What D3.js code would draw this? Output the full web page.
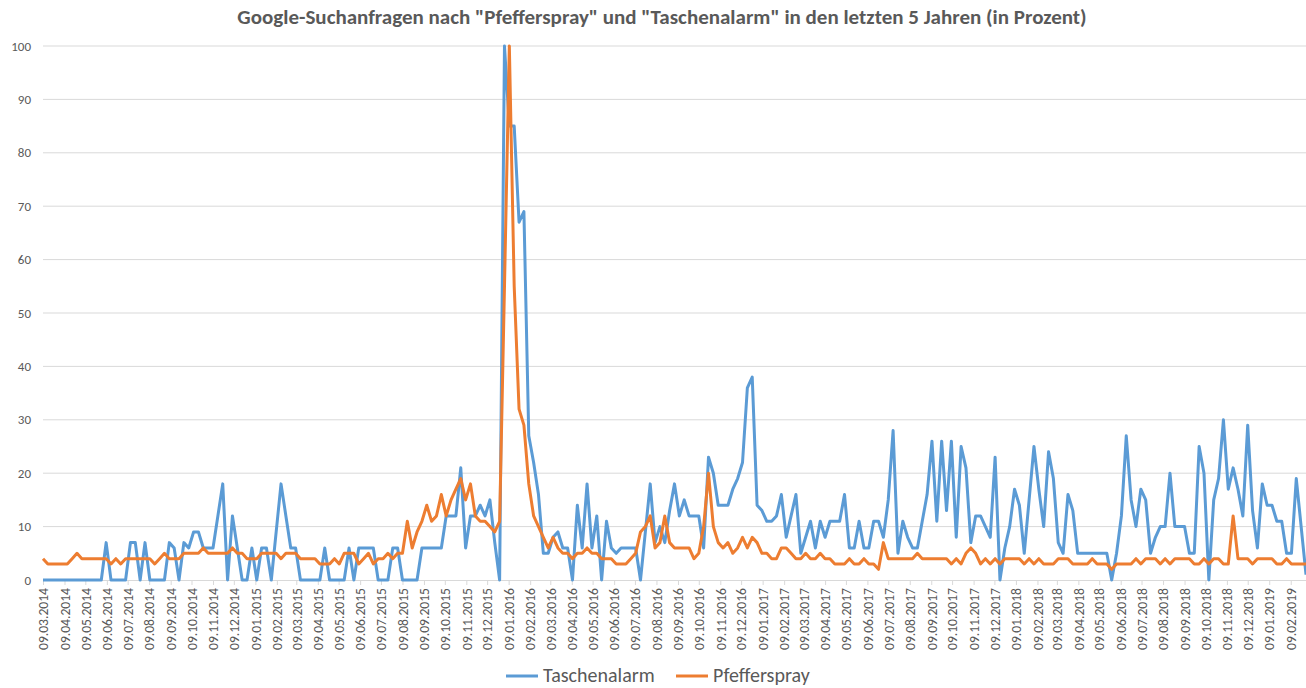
<!DOCTYPE html>
<html>
<head>
<meta charset="utf-8">
<script src="https://cdn.jsdelivr.net/npm/d3@7"></script>
<style>
  body { margin: 0; background: #fff; }
  svg { display: block; font-family: Calibri, Carlito, 'Liberation Sans', Arial, sans-serif; }
</style>
</head>
<body>
<svg id="chart" width="1306" height="688"></svg>
<script>
// weekly values (Google Trends), first week = 09.03.2014
var seriesNames = ['Taschenalarm', 'Pfefferspray'];
var seriesColors = ['#5B9BD5', '#ED7D31'];

var taschenalarm = [
    0, 0, 0, 0, 0, 0, 0, 0, 0, 0, 0, 0, 0, 7, 0, 0, 0, 0, 7, 7,
    0, 7, 0, 0, 0, 0, 7, 6, 0, 7, 6, 9, 9, 6, 6, 6, 12, 18, 0, 12,
    6, 0, 0, 6, 0, 6, 6, 0, 9, 18, 12, 6, 6, 0, 0, 0, 0, 0, 6, 0,
    0, 0, 0, 6, 0, 6, 6, 6, 6, 0, 0, 0, 6, 6, 0, 0, 0, 0, 6, 6,
    6, 6, 6, 12, 12, 12, 21, 6, 12, 12, 14, 12, 15, 7, 0, 100, 85, 85, 67, 69,
    27, 22, 16, 5, 5, 8, 9, 6, 6, 0, 14, 6, 18, 6, 12, 0, 11, 6, 5, 6,
    6, 6, 6, 0, 9, 18, 7, 10, 7, 13, 18, 12, 15, 12, 12, 12, 6, 23, 20, 14,
    14, 14, 17, 19, 22, 36, 38, 14, 13, 11, 11, 12, 16, 8, 12, 16, 5, 8, 11, 6,
    11, 8, 11, 11, 11, 16, 6, 6, 11, 6, 6, 11, 11, 8, 15, 28, 5, 11, 8, 6,
    6, 11, 16, 26, 11, 26, 13, 26, 8, 25, 21, 7, 12, 12, 10, 8, 23, 0, 6, 10,
    17, 14, 5, 15, 25, 17, 10, 24, 19, 7, 5, 16, 13, 5, 5, 5, 5, 5, 5, 5,
    0, 5, 12, 27, 15, 10, 17, 15, 5, 8, 10, 10, 20, 10, 10, 10, 5, 5, 25, 20,
    0, 15, 19, 30, 17, 21, 17, 12, 29, 13, 6, 18, 14, 14, 11, 11, 5, 5, 19, 10,
    1
];

var pfefferspray = [
    4, 3, 3, 3, 3, 3, 4, 5, 4, 4, 4, 4, 4, 4, 3, 4, 3, 4, 4, 4,
    4, 4, 4, 3, 4, 5, 4, 4, 4, 5, 5, 5, 5, 6, 5, 5, 5, 5, 5, 6,
    5, 5, 4, 4, 4, 5, 5, 5, 5, 4, 5, 5, 5, 4, 4, 4, 4, 3, 3, 3,
    4, 3, 5, 5, 5, 3, 4, 5, 3, 4, 4, 5, 4, 5, 5, 11, 6, 9, 11, 14,
    11, 12, 16, 12, 15, 17, 19, 15, 18, 12, 11, 11, 10, 9, 11, 55, 100, 55, 32, 29,
    18, 12, 10, 8, 6, 8, 6, 5, 5, 4, 5, 5, 6, 5, 5, 4, 4, 4, 3, 3,
    3, 4, 5, 9, 10, 12, 6, 7, 12, 7, 6, 6, 6, 6, 4, 5, 10, 20, 10, 7,
    6, 7, 5, 6, 8, 6, 8, 7, 5, 5, 4, 4, 6, 6, 5, 4, 4, 5, 4, 4,
    5, 4, 4, 3, 3, 3, 4, 3, 3, 4, 3, 3, 2, 7, 4, 4, 4, 4, 4, 4,
    5, 4, 4, 4, 4, 4, 4, 3, 4, 3, 5, 6, 5, 3, 4, 3, 4, 3, 4, 4,
    4, 4, 3, 4, 3, 4, 3, 3, 3, 4, 4, 4, 3, 3, 3, 3, 4, 3, 3, 3,
    2, 3, 3, 3, 3, 4, 3, 4, 4, 4, 3, 4, 3, 4, 4, 4, 4, 3, 3, 4,
    3, 4, 4, 3, 3, 12, 4, 4, 4, 3, 4, 4, 4, 4, 3, 3, 4, 3, 3, 3,
    3
];

var yTicks = [0, 10, 20, 30, 40, 50, 60, 70, 80, 90, 100];

var titleText = 'Google-Suchanfragen nach "Pfefferspray" und "Taschenalarm" in den letzten 5 Jahren (in Prozent)';

var svg = d3.select('#chart');

var plot = { l: 43, r: 1306, t: 46, b: 580 };

var startDate = new Date(2014, 2, 9);
var weeks = d3.range(taschenalarm.length).map(function(i) {
    return d3.timeDay.offset(startDate, 7 * i);
});
// axis labels on the 9th of every month
var tickDates = d3.range(60).map(function(k) { return new Date(2014, 2 + k, 9); });
var fmt = d3.timeFormat('%d.%m.%Y');

var xScale = d3.scaleTime()
    .domain([startDate, weeks[weeks.length - 1]])
    .range([plot.l, plot.r]);

var yScale = d3.scaleLinear()
    .domain([0, 100])
    .range([plot.b, plot.t]);

// Title
svg.append('text')
    .attr('x', 662)
    .attr('y', 24)
    .attr('text-anchor', 'middle')
    .style('font-size', '21px')
    .style('font-weight', 'bold')
    .style('fill', '#595959')
    .text(titleText);

// gridlines
svg.append('g')
    .selectAll('line')
    .data(yTicks.filter(function(d) { return d > 0; }))
    .enter().append('line')
    .attr('x1', plot.l)
    .attr('x2', plot.r)
    .attr('y1', function(d) { return yScale(d); })
    .attr('y2', function(d) { return yScale(d); })
    .style('stroke', '#d9d9d9')
    .style('stroke-width', 1);

// y axis labels
svg.append('g')
    .selectAll('text')
    .data(yTicks)
    .enter().append('text')
    .attr('x', 31)
    .attr('y', function(d) { return yScale(d) + 4.5; })
    .attr('text-anchor', 'end')
    .style('font-size', '13px')
    .style('fill', '#595959')
    .text(function(d) { return d; });

// x axis
var xAxis = d3.axisBottom(xScale)
    .tickValues(tickDates)
    .tickSize(5)
    .tickFormat(fmt);

var xG = svg.append('g')
    .attr('transform', 'translate(0,' + plot.b + ')')
    .call(xAxis);

xG.select('.domain').style('stroke', '#d9d9d9');
xG.selectAll('.tick line').style('stroke', '#d9d9d9');
xG.selectAll('.tick text')
    .attr('transform', 'rotate(-90)')
    .attr('x', -8)
    .attr('y', 0)
    .attr('dy', '0.35em')
    .style('text-anchor', 'end')
    .style('font-size', '13.6px')
    .style('font-family', "Calibri, Carlito, 'Liberation Sans', Arial, sans-serif")
    .style('fill', '#595959');

// lines
var line = d3.line()
    .x(function(d, i) { return xScale(weeks[i]); })
    .y(function(d) { return yScale(d); });

var allSeries = [taschenalarm, pfefferspray];

svg.append('g')
    .selectAll('path')
    .data(allSeries)
    .enter().append('path')
    .attr('d', line)
    .style('fill', 'none')
    .style('stroke', function(d, i) { return seriesColors[i]; })
    .style('stroke-width', 3)
    .style('stroke-linejoin', 'round');

// legend
var legendItems = [
    { x: 506, name: seriesNames[0], color: seriesColors[0] },
    { x: 676, name: seriesNames[1], color: seriesColors[1] }
];

var legend = svg.append('g').attr('transform', 'translate(0,676)');
legend.selectAll('line')
    .data(legendItems)
    .enter().append('line')
    .attr('x1', function(d) { return d.x; })
    .attr('x2', function(d) { return d.x + 32; })
    .attr('y1', 0)
    .attr('y2', 0)
    .style('stroke', function(d) { return d.color; })
    .style('stroke-width', 3);

legend.selectAll('text')
    .data(legendItems)
    .enter().append('text')
    .attr('x', function(d) { return d.x + 37; })
    .attr('y', 6)
    .style('font-size', '20px')
    .style('fill', '#595959')
    .text(function(d) { return d.name; });
</script>
</body>
</html>
